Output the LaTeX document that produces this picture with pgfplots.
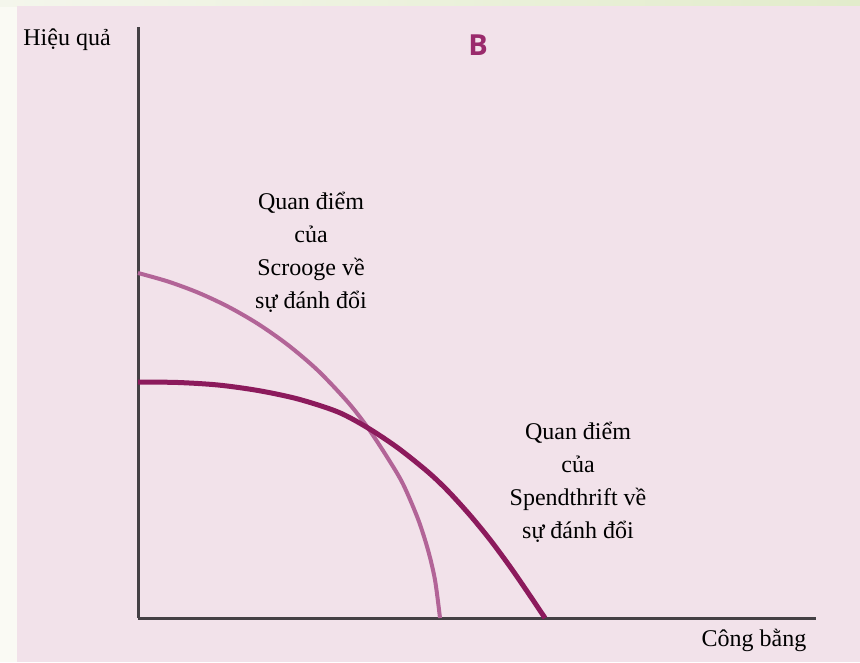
\documentclass[border=0pt]{standalone}
\usepackage{fontspec}
\setmainfont{Liberation Serif}
\newfontfamily\sansb{Open Sans}
\usepackage{pgfplots}
\pgfplotsset{compat=1.18}
\definecolor{bgpink}{HTML}{F2E2EA}
\definecolor{leftstrip}{HTML}{FAFAF4}
\definecolor{topleft}{HTML}{F4F6EC}
\definecolor{topright}{HTML}{E2ECCB}
\definecolor{axisgray}{HTML}{444044}
\definecolor{scrooge}{HTML}{B26497}
\definecolor{spend}{HTML}{8C1A5C}
\definecolor{bmag}{HTML}{9A2A6C}
\begin{document}
\begin{tikzpicture}[x=1pt,y=1pt]
\fill[leftstrip] (0,0) rectangle (860,662);
\shade[left color=topleft, right color=topright] (0,655) rectangle (860,662);
\fill[bgpink] (17,0) rectangle (860,656);
\begin{axis}[at={(138pt,44pt)}, anchor=south west, x=1pt, y=1pt,
  xmin=0, xmax=678, ymin=0, ymax=591,
  axis lines=left, axis line style={-, line width=3pt, draw=axisgray},
  xtick=\empty, ytick=\empty, clip=false]
\addplot[smooth, line width=4pt, color=scrooge] coordinates {
(0,345) (30,336.5) (60,325.4) (90,311.4) (120,294.1) (150,273) (180,247.4) (210,215.7) (230,190) (250,159.5) (265,134) (280,99) (290,68) (297,38) (302,0)};
\addplot[smooth, line width=5pt, color=spend] coordinates {
(0,236) (40,235.5) (80,233) (120,227.5) (160,219) (200,206) (230,190) (260,170) (290,146) (310,127) (332,102.8) (352,78.4) (372,51.4) (390,25.3) (407,0)};
\end{axis}
\node[font=\fontsize{24}{28}\selectfont] at (67,622) {Hiệu quả};
\node[font=\fontsize{29}{32}\selectfont\sansb\bfseries, text=bmag] at (478,617) {B};
\node[font=\fontsize{24}{33}\selectfont, align=center] at (311,410) {Quan điểm\\của\\Scrooge về\\sự đánh đổi};
\node[font=\fontsize{24}{33}\selectfont, align=center] at (578,180) {Quan điểm\\của\\Spendthrift về\\sự đánh đổi};
\node[font=\fontsize{24}{28}\selectfont] at (754,22) {Công bằng};
\end{tikzpicture}
\end{document}
